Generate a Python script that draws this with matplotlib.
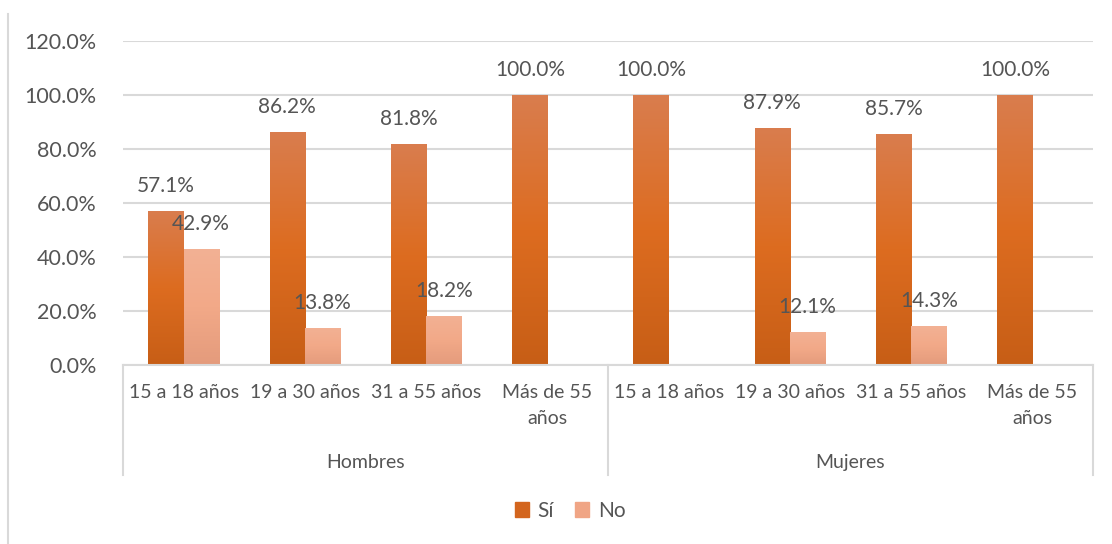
import matplotlib.pyplot as plt
import numpy as np
from matplotlib.colors import LinearSegmentedColormap
from matplotlib.lines import Line2D
from matplotlib.patches import Patch

plt.rcParams['font.family'] = ['Lato', 'DejaVu Sans']

# datos
grupos = ['Hombres', 'Mujeres']
edades = ['15 a 18 años', '19 a 30 años', '31 a 55 años', 'Más de 55\naños']
si = [57.1, 86.2, 81.8, 100.0, 100.0, 87.9, 85.7, 100.0]
no = [42.9, 13.8, 18.2, 0.0, 0.0, 12.1, 14.3, 0.0]
yticks = [0, 20, 40, 60, 80, 100, 120]

TXT = '#555555'
GRID = '#D9D9D9'
cmap_si = LinearSegmentedColormap.from_list('si', ['#C75E16', '#DD6C20', '#D97D4E'])
cmap_no = LinearSegmentedColormap.from_list('no', ['#E49B7C', '#F2A988', '#F3B194'])

W, H = 1112, 544
fig = plt.figure(figsize=(W / 100, H / 100), dpi=100)
ax = fig.add_axes([123 / W, (H - 365) / H, 970 / W, 324 / H])

n = len(si)
x = np.arange(n)
bw = 0.29
grad = np.linspace(0, 1, 256).reshape(-1, 1)

bars_si = ax.bar(x - bw / 2, si, bw, color='#D3651E', zorder=2)
bars_no = ax.bar(x + bw / 2, no, bw, color='#F0A585', zorder=2)

for bars, cm in [(bars_si, cmap_si), (bars_no, cmap_no)]:
    for b in bars:
        h = b.get_height()
        if h <= 0:
            continue
        x0 = b.get_x()
        im = ax.imshow(grad, extent=[x0, x0 + b.get_width(), 0, h], origin='lower',
                       aspect='auto', cmap=cm, zorder=2.5)
        im.set_clip_path(b)

# etiquetas de datos
for bars, vals in [(bars_si, si), (bars_no, no)]:
    for b, v in zip(bars, vals):
        if v <= 0:
            continue
        ax.annotate(f'{v:.1f}%', (b.get_x() + b.get_width() / 2, v),
                    xytext=(0, 18), textcoords='offset points',
                    ha='center', va='center', fontsize=15, color=TXT, zorder=4)

ax.set_xlim(-0.5, n - 0.5)
ax.set_ylim(0, 120)
ax.set_yticks(yticks)
ax.set_yticklabels([f'{t:.1f}%' for t in yticks])
ax.yaxis.grid(True, color=GRID, linewidth=1.5)
ax.set_axisbelow(True)
ax.tick_params(axis='y', length=0, pad=19, labelsize=15.5, labelcolor=TXT)

ax.set_xticks(x)
ax.set_xticklabels(edades * len(grupos), fontsize=14, color=TXT, linespacing=1.6)
ax.tick_params(axis='x', length=0, pad=14)

for s in ['top', 'right', 'left']:
    ax.spines[s].set_visible(False)
ax.spines['bottom'].set_color(GRID)
ax.spines['bottom'].set_linewidth(1.5)

# eje de categorías jerárquico
k = len(edades)
for bnd in [-0.5, k - 0.5, n - 0.5]:
    ax.add_line(Line2D([bnd, bnd], [0, -0.34], transform=ax.get_xaxis_transform(),
                       color=GRID, lw=1.5, clip_on=False))
for i, g in enumerate(grupos):
    ax.text(i * k + (k - 1) / 2, -0.30, g, transform=ax.get_xaxis_transform(),
            ha='center', va='center', fontsize=14, color=TXT)

# borde del gráfico
fig.add_artist(Line2D([8 / W, 8 / W], [0, 1 - 14 / H], color=GRID, lw=1.5))

handles = [Patch(color='#D3651E', label='Sí'), Patch(color='#F0A585', label='No')]
fig.legend(handles=handles, loc='center', bbox_to_anchor=(570 / W, 1 - 511 / H),
           ncol=2, frameon=False, fontsize=15, handlelength=0.7, handleheight=0.7,
           handletextpad=0.4, columnspacing=1.0, labelcolor=TXT)

fig.savefig('out.png', dpi=100)
